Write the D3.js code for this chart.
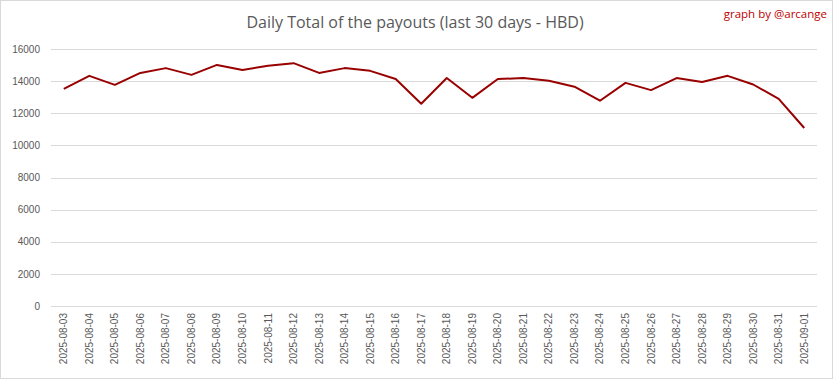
<!DOCTYPE html>
<html>
<head>
<meta charset="utf-8">
<script src="https://cdn.jsdelivr.net/npm/d3@7"></script>
<style>
  body { margin: 0; background: #fff; }
  svg { font-family: "Open Sans", "DejaVu Sans", sans-serif; }
</style>
</head>
<body>
<svg id="drawing_region"></svg>
<script>
const dates = [
    "2025-08-03","2025-08-04","2025-08-05","2025-08-06","2025-08-07","2025-08-08",
    "2025-08-09","2025-08-10","2025-08-11","2025-08-12","2025-08-13","2025-08-14",
    "2025-08-15","2025-08-16","2025-08-17","2025-08-18","2025-08-19","2025-08-20",
    "2025-08-21","2025-08-22","2025-08-23","2025-08-24","2025-08-25","2025-08-26",
    "2025-08-27","2025-08-28","2025-08-29","2025-08-30","2025-08-31","2025-09-01"
];
const payouts = [
    13520, 14330, 13770, 14510, 14810, 14390,
    15010, 14690, 14960, 15120, 14510, 14810,
    14640, 14130, 12590, 14190, 12960, 14130,
    14190, 14020, 13650, 12780, 13890, 13440,
    14190, 13940, 14330, 13790, 12900, 11080
];
const yTicks = [0, 2000, 4000, 6000, 8000, 10000, 12000, 14000, 16000];

const config = {
    width: 833,
    height: 379,
    margin: {top: 49, right: 16, bottom: 73, left: 51}
};

const svg = d3.select('#drawing_region')
    .attr('width', config.width)
    .attr('height', config.height);

// outer frame
svg.append('rect')
    .attr('x', 0.5).attr('y', 0.5)
    .attr('width', config.width - 1).attr('height', config.height - 1)
    .attr('fill', '#fff')
    .attr('stroke', '#d9d9d9');

const inner_width = config.width - config.margin.left - config.margin.right;
const inner_height = config.height - config.margin.top - config.margin.bottom;

const chart = svg.append('g')
    .attr('transform', `translate(${config.margin.left}, ${config.margin.top})`);

const xscale = d3.scaleBand()
    .domain(dates)
    .range([0, inner_width]);

const yscale = d3.scaleLinear()
    .domain([0, 16000])
    .range([inner_height, 0]);

// gridlines
chart.append('g')
    .selectAll('line')
    .data(yTicks)
    .join('line')
    .attr('x1', 0)
    .attr('x2', inner_width)
    .attr('y1', d => Math.round(yscale(d)) + 0.5)
    .attr('y2', d => Math.round(yscale(d)) + 0.5)
    .attr('stroke', '#d9d9d9')
    .attr('stroke-width', 1);

// y axis labels
const yaxis = d3.axisLeft(yscale)
    .tickValues(yTicks)
    .tickSize(0)
    .tickPadding(11)
    .tickFormat(d3.format('d'));
const yaxis_group = chart.append('g').call(yaxis);
yaxis_group.select('.domain').remove();
yaxis_group.selectAll('text')
    .attr('fill', '#595959')
    .attr('font-size', '10px');

// x axis labels
const xaxis = d3.axisBottom(xscale)
    .tickSize(0)
    .tickSizeOuter(0);
const xaxis_group = chart.append('g')
    .attr('transform', `translate(0, ${inner_height})`)
    .call(xaxis);
xaxis_group.select('.domain').remove();
xaxis_group.selectAll('text')
    .attr('fill', '#595959')
    .attr('font-size', '10px')
    .attr('transform', 'rotate(-90)')
    .attr('x', -7)
    .attr('y', 0)
    .attr('dy', '0.35em')
    .style('text-anchor', 'end');

// line
const line = d3.line()
    .x((d, i) => xscale(dates[i]) + xscale.bandwidth() / 2)
    .y(d => yscale(d));

chart.append('path')
    .datum(payouts)
    .attr('fill', 'none')
    .attr('stroke', '#990000')
    .attr('stroke-width', 2)
    .attr('stroke-linejoin', 'round')
    .attr('d', line);

// title
svg.append('text')
    .attr('x', 415)
    .attr('y', 28)
    .attr('text-anchor', 'middle')
    .attr('fill', '#595959')
    .attr('font-size', '16px')
    .text('Daily Total of the payouts (last 30 days - HBD)');

svg.append('text')
    .attr('x', 827)
    .attr('y', 18)
    .attr('text-anchor', 'end')
    .attr('fill', '#c00000')
    .attr('font-size', '11.5px')
    .text('graph by @arcange');
</script>
</body>
</html>
